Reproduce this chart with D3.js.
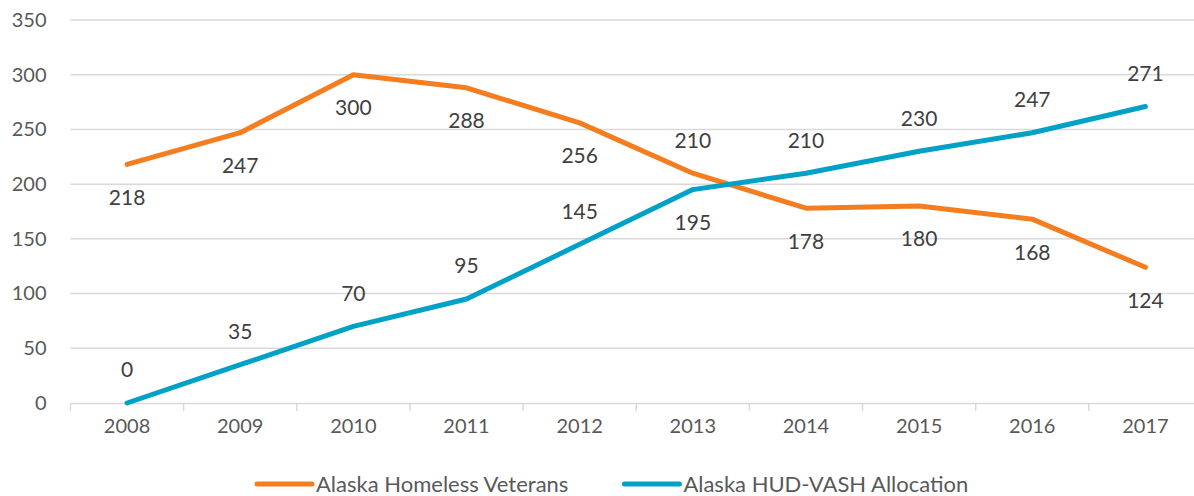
<!DOCTYPE html>
<html>
<head>
<meta charset="utf-8">
<script src="https://cdn.jsdelivr.net/npm/d3@7"></script>
<style>
  body { margin: 0; background: #fff; }
  svg text { font-family: "Lato", "Open Sans", sans-serif; }
</style>
</head>
<body>
<div id="chart"></div>
<script>
// Data
const years = ["2008", "2009", "2010", "2011", "2012", "2013", "2014", "2015", "2016", "2017"];
const homeless = [218, 247, 300, 288, 256, 210, 178, 180, 168, 124];
const hudVash = [0, 35, 70, 95, 145, 195, 210, 230, 247, 271];
const yTicks = [0, 50, 100, 150, 200, 250, 300, 350];
// label side: 1 = below the point, -1 = above
const homelessSide = [1, 1, 1, 1, 1, -1, 1, 1, 1, 1];
const hudVashSide = [-1, -1, -1, -1, -1, 1, -1, -1, -1, -1];

const series = [
  { name: "Alaska Homeless Veterans", values: homeless, side: homelessSide, color: "#F47D20" },
  { name: "Alaska HUD-VASH Allocation", values: hudVash, side: hudVashSide, color: "#00A1C6" }
];

const W = 1194, H = 496;
const margin = { top: 20, right: -8, bottom: 93, left: 70.5 };
const width = W - margin.left - margin.right;
const height = H - margin.top - margin.bottom;

const svg = d3.select("#chart").append("svg")
  .attr("width", W)
  .attr("height", H);

const chart = svg.append("g")
  .attr("transform", `translate(${margin.left}, ${margin.top})`);

const x = d3.scaleBand().domain(years).range([0, width]);
const y = d3.scaleLinear().domain([0, 350]).range([height, 0]);

// Gridlines
chart.append("g")
  .selectAll("line")
  .data(yTicks.filter(d => d > 0))
  .join("line")
  .attr("x1", 0)
  .attr("x2", width)
  .attr("y1", d => y(d))
  .attr("y2", d => y(d))
  .attr("stroke", "#D9D9D9")
  .attr("stroke-width", 1.5);

// Y axis
const yAxis = chart.append("g")
  .call(d3.axisLeft(y).tickValues(yTicks).tickSize(0).tickPadding(24));
yAxis.select(".domain").remove();
yAxis.selectAll("text")
  .style("font-size", "20px")
  .attr("fill", "#595959");

// X axis
const xAxis = chart.append("g")
  .attr("transform", `translate(0, ${height})`)
  .call(d3.axisBottom(x).tickSize(0).tickPadding(16));
xAxis.select(".domain")
  .attr("stroke", "#D9D9D9")
  .attr("stroke-width", 1.5);
xAxis.selectAll("text")
  .style("font-size", "20px")
  .attr("fill", "#595959");

// Category separators on the x axis
chart.append("g")
  .selectAll("line")
  .data(years.concat(["end"]))
  .join("line")
  .attr("x1", (d, i) => i * x.step())
  .attr("x2", (d, i) => i * x.step())
  .attr("y1", height)
  .attr("y2", height + 8)
  .attr("stroke", "#D9D9D9")
  .attr("stroke-width", 1.5);

// Lines
const line = d3.line()
  .x((d, i) => x(years[i]) + x.bandwidth() / 2)
  .y(d => y(d));

series.forEach(s => {
  chart.append("path")
    .datum(s.values)
    .attr("fill", "none")
    .attr("stroke", s.color)
    .attr("stroke-width", 5)
    .attr("stroke-linecap", "round")
    .attr("stroke-linejoin", "round")
    .attr("d", line);

  chart.append("g")
    .selectAll("text")
    .data(s.values)
    .join("text")
    .attr("x", (d, i) => x(years[i]) + x.bandwidth() / 2)
    .attr("y", (d, i) => y(d) + s.side[i] * 33)
    .attr("dy", "0.35em")
    .attr("text-anchor", "middle")
    .style("font-size", "21px")
    .attr("fill", "#404040")
    .text(d => d);
});

// Legend
const legend = svg.append("g")
  .attr("transform", "translate(257, 484)");

let offset = 0;
series.forEach((s, i) => {
  const g = legend.append("g").attr("transform", `translate(${offset}, 0)`);
  g.append("line")
    .attr("x1", 0)
    .attr("x2", 55)
    .attr("y1", 0)
    .attr("y2", 0)
    .attr("stroke", s.color)
    .attr("stroke-width", 5)
    .attr("stroke-linecap", "round");
  const t = g.append("text")
    .attr("x", 59)
    .attr("y", 0)
    .attr("dy", "0.35em")
    .style("font-size", "22px")
    .attr("fill", "#595959")
    .text(s.name);
  offset += 59 + t.node().getComputedTextLength() + 56;
});
</script>
</body>
</html>
